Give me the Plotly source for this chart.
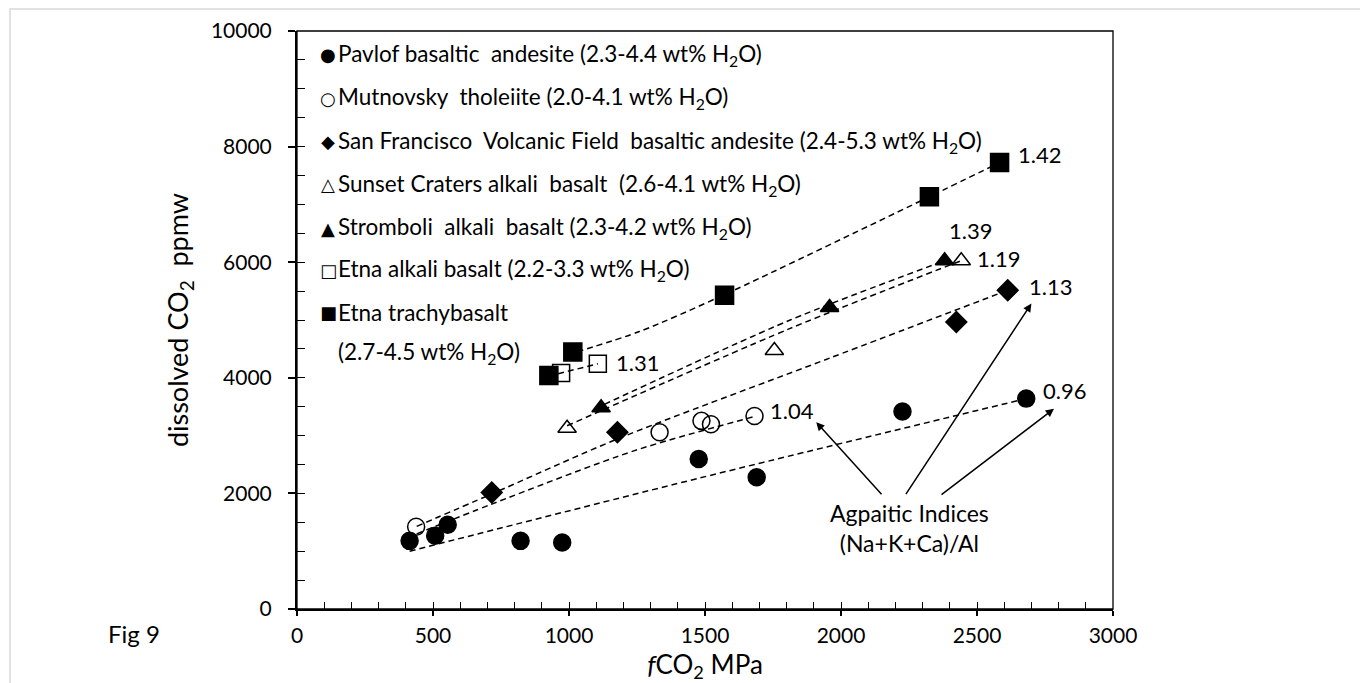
import plotly.graph_objects as go

# ---------------- data ----------------
pavlof_x = [414, 508, 554, 822, 975, 1477, 1690, 2226, 2681]
pavlof_y = [1179, 1266, 1457, 1179, 1150, 2596, 2278, 3417, 3640]
mutnovsky_x = [438, 1333, 1487, 1522, 1682]
mutnovsky_y = [1422, 3058, 3255, 3195, 3340]
sfvf_x = [716, 1178, 2424, 2613]
sfvf_y = [2017, 3058, 4966, 5515]
sunset_x = [993, 1755, 2442]
sunset_y = [3128, 4471, 6026]
stromboli_x = [1118, 1958, 2381]
stromboli_y = [3483, 5217, 6026]
etna_alk_x = [971, 1106]
etna_alk_y = [4085, 4243]
etna_tb_x = [926, 1014, 1572, 2325, 2583]
etna_tb_y = [4041, 4446, 5428, 7133, 7723]

# dashed model curves
pavlof_fit_x = [414, 1480, 2681]
pavlof_fit_y = [1000, 2266, 3640]
mutnovsky_fit_x = [440, 716, 1241, 1682]
mutnovsky_fit_y = [1300, 1815, 2740, 3330]
sfvf_fit_x = [440, 716, 1177, 1958, 2613]
sfvf_fit_y = [1430, 1990, 2940, 4340, 5515]
sunset_fit_x = [993, 1811, 2442]
sunset_fit_y = [3170, 4850, 6026]
stromboli_fit_x = [1130, 1811, 2381]
stromboli_fit_y = [3540, 4995, 6026]
etna_alk_fit_x = [960, 1106]
etna_alk_fit_y = [4070, 4243]
etna_tb_fit_x = [1030, 1259, 1572, 2325, 2583]
etna_tb_fit_y = [4450, 4800, 5440, 7133, 7723]

# agpaitic index labels
ai_labels = ["1.42", "1.39", "1.19", "1.13", "0.96", "1.31", "1.04"]
ai_label_x = [2645, 2391, 2491, 2682, 2736, 1167, 1732]
ai_label_y = [7856, 6556, 6070, 5572, 3781, 4272, 3434]

legend_names = [
    "Pavlof basaltic\u00a0 andesite (2.3-4.4 wt% H<sub>2</sub>O)",
    "Mutnovsky\u00a0 tholeiite (2.0-4.1 wt% H<sub>2</sub>O)",
    "San Francisco\u00a0 Volcanic Field\u00a0 basaltic andesite (2.4-5.3 wt% H<sub>2</sub>O)",
    "Sunset Craters alkali\u00a0 basalt\u00a0 (2.6-4.1 wt% H<sub>2</sub>O)",
    "Stromboli\u00a0 alkali\u00a0 basalt (2.3-4.2 wt% H<sub>2</sub>O)",
    "Etna alkali basalt (2.2-3.3 wt% H<sub>2</sub>O)",
    "Etna trachybasalt",
]
legend_extra = "(2.7-4.5 wt% H<sub>2</sub>O)"
legend_glyphs = ["\u25CF", "\u25CB", "\u25C6", "\u25B3", "\u25B2", "\u25A1", "\u25A0"]

x_ticks = [0, 500, 1000, 1500, 2000, 2500, 3000]
y_ticks = [0, 2000, 4000, 6000, 8000, 10000]
y_tick_text = ["0", "2000", "4000", "6000", "8000", "10000"]
x_tick_text = ["0", "500", "1000", "1500", "2000", "2500", "3000"]

# ---------------- layout geometry ----------------
W, H = 1360, 683
L, R, T, B = 297, 247, 31, 74
PW, PH = W - L - R, H - T - B


def px_x(px):
    return (px - L) / PW


def px_y(py):
    return (H - B - py) / PH


FONT = "Lato"
LEG_SIZE = 22.5
fig = go.Figure()

dash = "6px,4px"
fits = [
    (pavlof_fit_x, pavlof_fit_y),
    (mutnovsky_fit_x, mutnovsky_fit_y),
    (sfvf_fit_x, sfvf_fit_y),
    (sunset_fit_x, sunset_fit_y),
    (stromboli_fit_x, stromboli_fit_y),
    (etna_alk_fit_x, etna_alk_fit_y),
    (etna_tb_fit_x, etna_tb_fit_y),
]
for fx, fy in fits:
    fig.add_trace(go.Scatter(
        x=fx, y=fy, mode="lines",
        line=dict(color="black", width=1.5, dash=dash, shape="spline", smoothing=0.8),
        showlegend=False, hoverinfo="skip"))

series = [
    ("Pavlof", pavlof_x, pavlof_y, "circle", 17),
    ("Mutnovsky", mutnovsky_x, mutnovsky_y, "circle-open", 17),
    ("SFVF", sfvf_x, sfvf_y, "diamond", 16),
    ("Sunset Craters", sunset_x, sunset_y, "triangle-up-open", 16),
    ("Stromboli", stromboli_x, stromboli_y, "triangle-up", 16),
    ("Etna alkali basalt", etna_alk_x, etna_alk_y, "square-open", 17),
    ("Etna trachybasalt", etna_tb_x, etna_tb_y, "square", 18),
]
for name, sx, sy, sym, sz in series:
    fig.add_trace(go.Scatter(
        x=sx, y=sy, mode="markers", name=name,
        marker=dict(symbol=sym, size=sz, color="black",
                    line=dict(color="black", width=1.5)),
        showlegend=False))

# overlay axes for inside ticks -> crossing major ticks
fig.add_trace(go.Scatter(x=[], y=[], xaxis="x2", yaxis="y2", showlegend=False,
                         hoverinfo="skip"))

annotations = []
# agpaitic index labels
for t, ax_, ay_ in zip(ai_labels, ai_label_x, ai_label_y):
    annotations.append(dict(x=ax_, y=ay_, xref="x", yref="y", text=t, showarrow=False,
                            xanchor="left", yanchor="middle",
                            font=dict(family=FONT, size=22, color="black")))

# Agpaitic indices note + arrows
annotations.append(dict(x=2252, y=1400, xref="x", yref="y",
                        text="Agpaitic Indices<br>(Na+K+Ca)/Al", showarrow=False,
                        xanchor="center", yanchor="middle",
                        font=dict(family=FONT, size=23, color="black")))
arrow_heads = [(1909, 3231), (2700, 5284), (2783, 3463)]
arrow_tails = [(2154, 1960), (2235, 1960), (2364, 1960)]
for (hx, hy), (tx, ty) in zip(arrow_heads, arrow_tails):
    annotations.append(dict(x=hx, y=hy, ax=tx, ay=ty, xref="x", yref="y",
                            axref="x", ayref="y", text="", showarrow=True,
                            arrowhead=2, arrowsize=1.1, arrowwidth=1.5,
                            arrowcolor="black", standoff=0, startstandoff=0))

# legend (text box inside plot)
legend_rows_py = [55, 98, 142, 185, 228, 270, 312]
for g, name, py in zip(legend_glyphs, legend_names, legend_rows_py):
    annotations.append(dict(x=px_x(328), y=px_y(py), xref="paper", yref="paper",
                            text=g, showarrow=False, xanchor="center", yanchor="middle",
                            font=dict(family="DejaVu Sans", size=18, color="black")))
    annotations.append(dict(x=px_x(336), y=px_y(py), xref="paper", yref="paper",
                            text=name, showarrow=False, xanchor="left", yanchor="middle",
                            font=dict(family=FONT, size=LEG_SIZE, color="black")))
annotations.append(dict(x=px_x(336), y=px_y(353), xref="paper", yref="paper",
                        text=legend_extra, showarrow=False, xanchor="left",
                        yanchor="middle", font=dict(family=FONT, size=LEG_SIZE, color="black")))

# Fig 9
annotations.append(dict(x=px_x(134), y=px_y(633), xref="paper", yref="paper",
                        text="Fig 9", showarrow=False, xanchor="center", yanchor="middle",
                        font=dict(family=FONT, size=24, color="black")))

shapes = [
    # plot frame
    dict(type="rect", xref="paper", yref="paper", x0=0, y0=0, x1=1, y1=1,
         line=dict(color="black", width=1.3), layer="above"),
    # outer light chart-area border
    dict(type="rect", xref="paper", yref="paper", x0=px_x(10), y0=px_y(700),
         x1=px_x(1380), y1=px_y(9), line=dict(color="#d9d9d9", width=1.5)),
]

fig.update_layout(
    width=W, height=H,
    margin=dict(l=L, r=R, t=T, b=B, autoexpand=False),
    paper_bgcolor="white", plot_bgcolor="white",
    font=dict(family=FONT, color="black"),
    showlegend=False,
    xaxis=dict(range=[0, 3000], tickvals=x_ticks, ticktext=x_tick_text,
               ticks="outside", ticklen=5, automargin=False,
               tickwidth=1.5, tickcolor="black", showline=True, linewidth=2,
               linecolor="black", showgrid=False, zeroline=False,
               tickfont=dict(family=FONT, size=21, color="black"),
               ticklabelstandoff=2,
               title=dict(text="<i>f</i>CO<sub>2</sub> MPa", standoff=20,
                          font=dict(family=FONT, size=26, color="black"))),
    yaxis=dict(range=[0, 10000], tickvals=y_ticks, ticktext=y_tick_text,
               ticks="outside", ticklen=7, automargin=False,
               tickwidth=1.5, tickcolor="black", showline=True, linewidth=2,
               linecolor="black", showgrid=False, zeroline=False,
               tickfont=dict(family=FONT, size=21, color="black"),
               ticklabelstandoff=12,
               title=dict(text="dissolved CO<sub>2</sub>\u00a0 ppmw", standoff=14,
                          font=dict(family=FONT, size=27, color="black"))),
    xaxis2=dict(range=[0, 3000], overlaying="x", anchor="y", side="bottom",
                dtick=100, tick0=0, ticks="inside", ticklen=7, tickwidth=1.3,
                tickcolor="black", showticklabels=False, showline=False,
                showgrid=False, zeroline=False, automargin=False),
    yaxis2=dict(range=[0, 10000], overlaying="y", anchor="x", side="left",
                dtick=500, tick0=0, ticks="inside", ticklen=8, tickwidth=1.3,
                tickcolor="black", showticklabels=False, showline=False,
                showgrid=False, zeroline=False, automargin=False),
    annotations=annotations,
    shapes=shapes,
)

fig.write_html("out.html")
